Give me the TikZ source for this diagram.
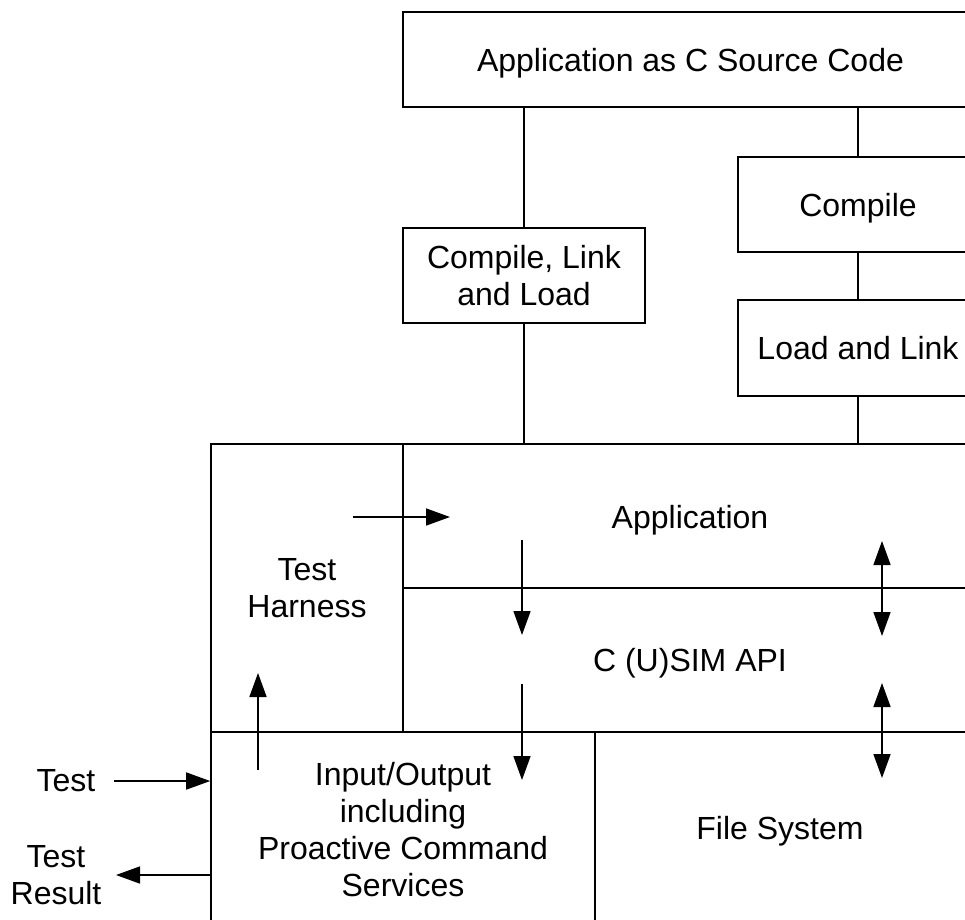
\documentclass[tikz,border=0pt]{standalone}
\usepackage{fontspec}
\setmainfont{Liberation Sans}
\usetikzlibrary{arrows.meta}
\begin{document}
\begin{tikzpicture}[x=1pt,y=-1pt,
  box/.style={draw,line width=1.6pt,minimum width=#1,inner sep=0pt,align=center},
  lbl/.style={align=center,inner sep=0pt},
  oneline/.style={text depth=0pt},
  conn/.style={line width=1.6pt},
  arr/.style={line width=1.6pt,-{Triangle[length=24pt,width=17pt]}},
  darr/.style={line width=1.6pt,{Triangle[length=24pt,width=17pt]}-{Triangle[length=24pt,width=17pt]}},
  font=\fontsize{32}{37}\selectfont]
\useasboundingbox (0,0) rectangle (965,919);
\clip (0,0) rectangle (965,919);
% boxes
\node[box=575pt,minimum height=95pt,oneline] (src) at (690.5,59.5) {Application as C Source Code};
\node[box=242pt,minimum height=95pt] (cll) at (524,275.5) {Compile, Link\\and Load};
\node[box=240pt,minimum height=95pt,oneline] (comp) at (858,204.5) {Compile};
\node[box=240pt,minimum height=96pt] (ll) at (858,348) {Load and Link};
\node[box=192pt,minimum height=288pt] (harness) at (307,588) {Test\\Harness};
\node[box=575pt,minimum height=144pt] (app) at (690.5,516) {};
\node[lbl,oneline] (applbl) at (690,517) {Application};
\node[box=575pt,minimum height=144pt] (api) at (690.5,660) {};
\node[lbl,oneline] (apilbl) at (690,660) {C (U)SIM API};
\node[box=384pt,minimum height=200pt] (io) at (403,832) {};
\node[lbl] (iolbl) at (403,829.5) {Input/Output\\including\\Proactive Command\\Services};
\node[box=371pt,minimum height=200pt] (fs) at (780.5,832) {};
\node[lbl,oneline] (fslbl) at (780,828) {File System};
\node[lbl] (test) at (66,780.5) {Test};
\node[lbl] (result) at (56,875.5) {Test\\Result};
% vertical connectors
\draw[conn] (src.south -| cll.north) -- (cll.north);
\draw[conn] (cll.south) -- (cll.south |- app.north);
\draw[conn] (src.south -| comp.north) -- (comp.north);
\draw[conn] (comp.south) -- (ll.north);
\draw[conn] (ll.south) -- (ll.south |- app.north);
% arrows
\coordinate (h1) at (353,517);
\coordinate (h2) at (450,517);
\draw[arr] (h1) -- (h2);
\coordinate (d1) at (522,540);
\coordinate (d2) at (522,635);
\draw[arr] (d1) -- (d2);
\coordinate (d3) at (522,684);
\coordinate (d4) at (522,780);
\draw[arr] (d3) -- (d4);
\coordinate (u1) at (258,770);
\coordinate (u2) at (258,673);
\draw[arr] (u1) -- (u2);
\coordinate (b1) at (882,541);
\coordinate (b2) at (882,636);
\draw[darr] (b1) -- (b2);
\coordinate (b3) at (882,683);
\coordinate (b4) at (882,778);
\draw[darr] (b3) -- (b4);
\coordinate (t1) at (114,781);
\draw[arr] (t1) -- (io.west |- t1);
\coordinate (r1) at (116,875);
\draw[arr] (io.west |- r1) -- (r1);
\end{tikzpicture}
\end{document}
